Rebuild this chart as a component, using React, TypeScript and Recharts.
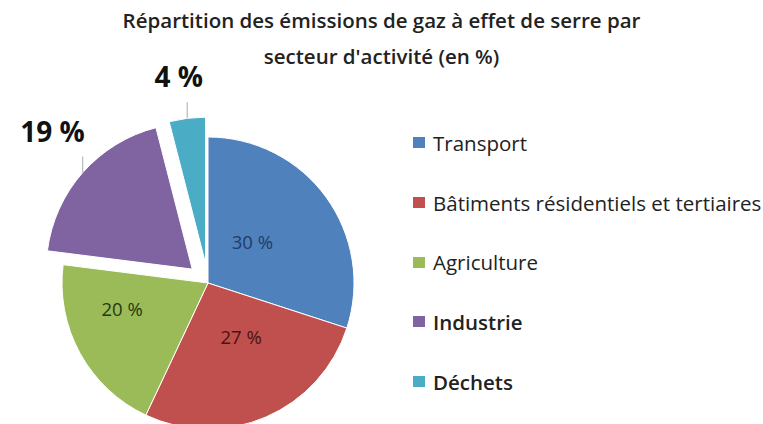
import { PieChart, Pie, Cell, Legend } from "recharts";

const sectors = [
  "Transport",
  "Bâtiments résidentiels et tertiaires",
  "Agriculture",
  "Industrie",
  "Déchets",
];
const shares = [30, 27, 20, 19, 4];
const colors = ["#4F81BD", "#C0504D", "#9BBB59", "#8064A2", "#4BACC6"];
const labelInk = ["#1F3C6A", "#4a1212", "#223a10", "#111111", "#111111"];
const labelRadius = [0.41, 0.48, 0.6, 1, 1];
const labelTurn = [0, 8.6, -8, 0, 0];
const explode = [0, 0, 0, 21, 20];
const outside = [false, false, false, true, true];
const legendBold = [false, false, false, true, true];

const data = sectors.map((name, i) => ({ name, value: shares[i] }));
const total = shares.reduce((a, b) => a + b, 0);

const CX = 203;
const CY = 278;
const R = 146;
const RAD = Math.PI / 180;
const FONT = "'Open Sans', 'Noto Sans', sans-serif";

function offsetFor(i: number) {
  const before = shares.slice(0, i).reduce((a, b) => a + b, 0);
  const mid = 90 - (360 * (before + shares[i] / 2)) / total;
  return {
    dx: explode[i] * Math.cos(mid * RAD),
    dy: -explode[i] * Math.sin(mid * RAD),
  };
}

function makeLabel(show: number) {
  return (props: any) => {
    const { cx, cy, midAngle, outerRadius, index } = props;
    if (index !== show) return null;
    const text = `${shares[index]} %`;
    if (!outside[index]) {
      const a = (midAngle + labelTurn[index]) * RAD;
      const r = outerRadius * labelRadius[index];
      // small nudge: the text box centre sits a little low/right of the glyphs
      return (
        <text
          x={cx + r * Math.cos(-a) - 4}
          y={cy + r * Math.sin(-a) - 6}
          textAnchor="middle"
          dominantBaseline="central"
          fill={labelInk[index]}
          style={{ fontFamily: FONT, fontSize: 18.5 }}
        >
          {text}
        </text>
      );
    }
    const cos = Math.cos(-midAngle * RAD);
    const sin = Math.sin(-midAngle * RAD);
    const ex = cx + outerRadius * cos;
    const ey = cy + outerRadius * sin;
    return (
      <g>
        <line x1={ex} y1={ey} x2={ex} y2={ey - 16} stroke="#aaa" strokeWidth={1} />
        <text
          x={ex + 35 * cos - 4}
          y={ey - 42}
          textAnchor="middle"
          dominantBaseline="central"
          fill="#111"
          style={{ fontFamily: FONT, fontSize: 28, fontWeight: 700 }}
        >
          {text}
        </text>
      </g>
    );
  };
}

function LegendBox() {
  return (
    <div style={{ fontFamily: FONT, color: "#222" }}>
      {sectors.map((name, i) => (
        <div
          key={name}
          style={{ display: "flex", alignItems: "center", height: 59.7 }}
        >
          <span
            style={{
              width: 12,
              height: 11,
              background: colors[i],
              marginRight: 8,
              display: "inline-block",
            }}
          />
          <span
            style={{
              fontSize: 20.5,
              fontWeight: legendBold[i] ? 600 : 400,
              whiteSpace: "nowrap",
            }}
          >
            {name}
          </span>
        </div>
      ))}
    </div>
  );
}

export default function App() {
  return (
    <div
      style={{
        position: "absolute",
        left: 0,
        top: 0,
        width: 763,
        height: 424,
        background: "#fff",
        overflow: "hidden",
      }}
    >
      <div
        style={{
          position: "absolute",
          top: 2,
          left: 0,
          width: 763,
          textAlign: "center",
          fontFamily: FONT,
          fontWeight: 600,
          fontSize: 20.5,
          lineHeight: "36px",
          color: "#222",
        }}
      >
        Répartition des émissions de gaz à effet de serre par
        <br />
        secteur d'activité (en %)
      </div>
      <PieChart width={763} height={424} style={{ position: "absolute", top: 0, left: 0 }}>
        {sectors.map((_, k) => {
          const { dx, dy } = offsetFor(k);
          return (
            <Pie
              key={k}
              data={data}
              dataKey="value"
              nameKey="name"
              cx={CX + dx}
              cy={CY + dy}
              outerRadius={R}
              startAngle={90}
              endAngle={-270}
              isAnimationActive={false}
              labelLine={false}
              label={makeLabel(k)}
              legendType="none"
            >
              {data.map((d, j) => (
                <Cell
                  key={d.name}
                  fill={j === k ? colors[j] : "transparent"}
                  stroke={j === k ? "#ffffff" : "none"}
                  strokeWidth={1}
                />
              ))}
            </Pie>
          );
        })}
        <Legend
          content={() => <LegendBox />}
          wrapperStyle={{ position: "absolute", left: 413, top: 113, width: 350 }}
        />
      </PieChart>
    </div>
  );
}
